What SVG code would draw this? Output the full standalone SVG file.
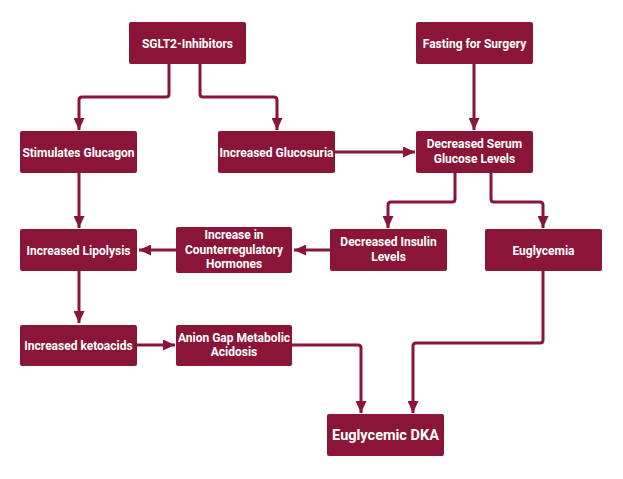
<svg xmlns="http://www.w3.org/2000/svg" width="623" height="479" viewBox="0 0 623 479">
<defs>
<style>
.box{fill:#8a1538;}
.t{fill:#ffffff;font-family:Roboto,"Liberation Sans",Arial,sans-serif;font-weight:bold;font-size:12px;text-anchor:middle;}
.big{font-size:14.5px;}
.c{fill:none;stroke:#8a1538;stroke-width:3;stroke-linejoin:round;marker-end:url(#ah);}
</style>
<marker id="ah" markerUnits="userSpaceOnUse" markerWidth="12" markerHeight="11" refX="12" refY="5.5" orient="auto">
<path d="M0,0 L12,5.5 L0,11 z" fill="#8a1538"/>
</marker>
</defs>
<rect width="623" height="479" fill="#ffffff"/>
<g id="connectors">
<path class="c" d="M169,64 V94 Q169,97 166,97 H82 Q79,97 79,100 V130"/>
<path class="c" d="M200,64 V94 Q200,97 203,97 H274 Q277,97 277,100 V130"/>
<path class="c" d="M474,64 V130"/>
<path class="c" d="M335,152 H415"/>
<path class="c" d="M455,173 V199 Q455,202 452,202 H391 Q388,202 388,205 V228"/>
<path class="c" d="M491,173 V199 Q491,202 494,202 H540 Q543,202 543,205 V228"/>
<path class="c" d="M330,250 H294"/>
<path class="c" d="M176,250 H139"/>
<path class="c" d="M79,173 V228"/>
<path class="c" d="M79,271 V323"/>
<path class="c" d="M137,345 H175"/>
<path class="c" d="M292,345 H358 Q361,345 361,348 V413"/>
<path class="c" d="M543,271 V340 Q543,343 540,343 H416 Q413,343 413,346 V413"/>
</g>
<g id="sglt2">
<rect class="box" x="129" y="22" width="117" height="42" rx="2"/>
<text class="t" x="187.5" y="47.5">SGLT2-Inhibitors</text>
</g>
<g id="fasting">
<rect class="box" x="416" y="22" width="117" height="42" rx="2"/>
<text class="t" x="474.5" y="47.5">Fasting for Surgery</text>
</g>
<g id="stimulates-glucagon">
<rect class="box" x="20" y="131" width="117" height="42" rx="2"/>
<text class="t" x="78.5" y="156.5">Stimulates Glucagon</text>
</g>
<g id="increased-glucosuria">
<rect class="box" x="218" y="131" width="117" height="42" rx="2"/>
<text class="t" x="276.5" y="156.5">Increased Glucosuria</text>
</g>
<g id="decreased-serum">
<rect class="box" x="416" y="131" width="117" height="42" rx="2"/>
<text class="t" x="474.5" y="148">Decreased Serum</text>
<text class="t" x="474.5" y="163">Glucose Levels</text>
</g>
<g id="increased-lipolysis">
<rect class="box" x="20" y="229" width="117" height="42" rx="2"/>
<text class="t" x="78.5" y="254.5">Increased Lipolysis</text>
</g>
<g id="counterregulatory">
<rect class="box" x="176" y="227" width="116" height="46" rx="2"/>
<text class="t" x="234" y="239">Increase in</text>
<text class="t" x="234" y="253.5">Counterregulatory</text>
<text class="t" x="234" y="268">Hormones</text>
</g>
<g id="decreased-insulin">
<rect class="box" x="330" y="229" width="117" height="42" rx="2"/>
<text class="t" x="388.5" y="246">Decreased Insulin</text>
<text class="t" x="388.5" y="261">Levels</text>
</g>
<g id="euglycemia">
<rect class="box" x="485" y="229" width="117" height="42" rx="2"/>
<text class="t" x="543.5" y="254.5">Euglycemia</text>
</g>
<g id="increased-ketoacids">
<rect class="box" x="20" y="325" width="117" height="41" rx="2"/>
<text class="t" x="78.5" y="350">Increased ketoacids</text>
</g>
<g id="anion-gap">
<rect class="box" x="176" y="325" width="116" height="41" rx="2"/>
<text class="t" x="234" y="341.5">Anion Gap Metabolic</text>
<text class="t" x="234" y="356">Acidosis</text>
</g>
<g id="euglycemic-dka">
<rect class="box" x="327" y="414" width="117" height="42" rx="2"/>
<text class="t big" x="385.5" y="440">Euglycemic DKA</text>
</g>
</svg>
